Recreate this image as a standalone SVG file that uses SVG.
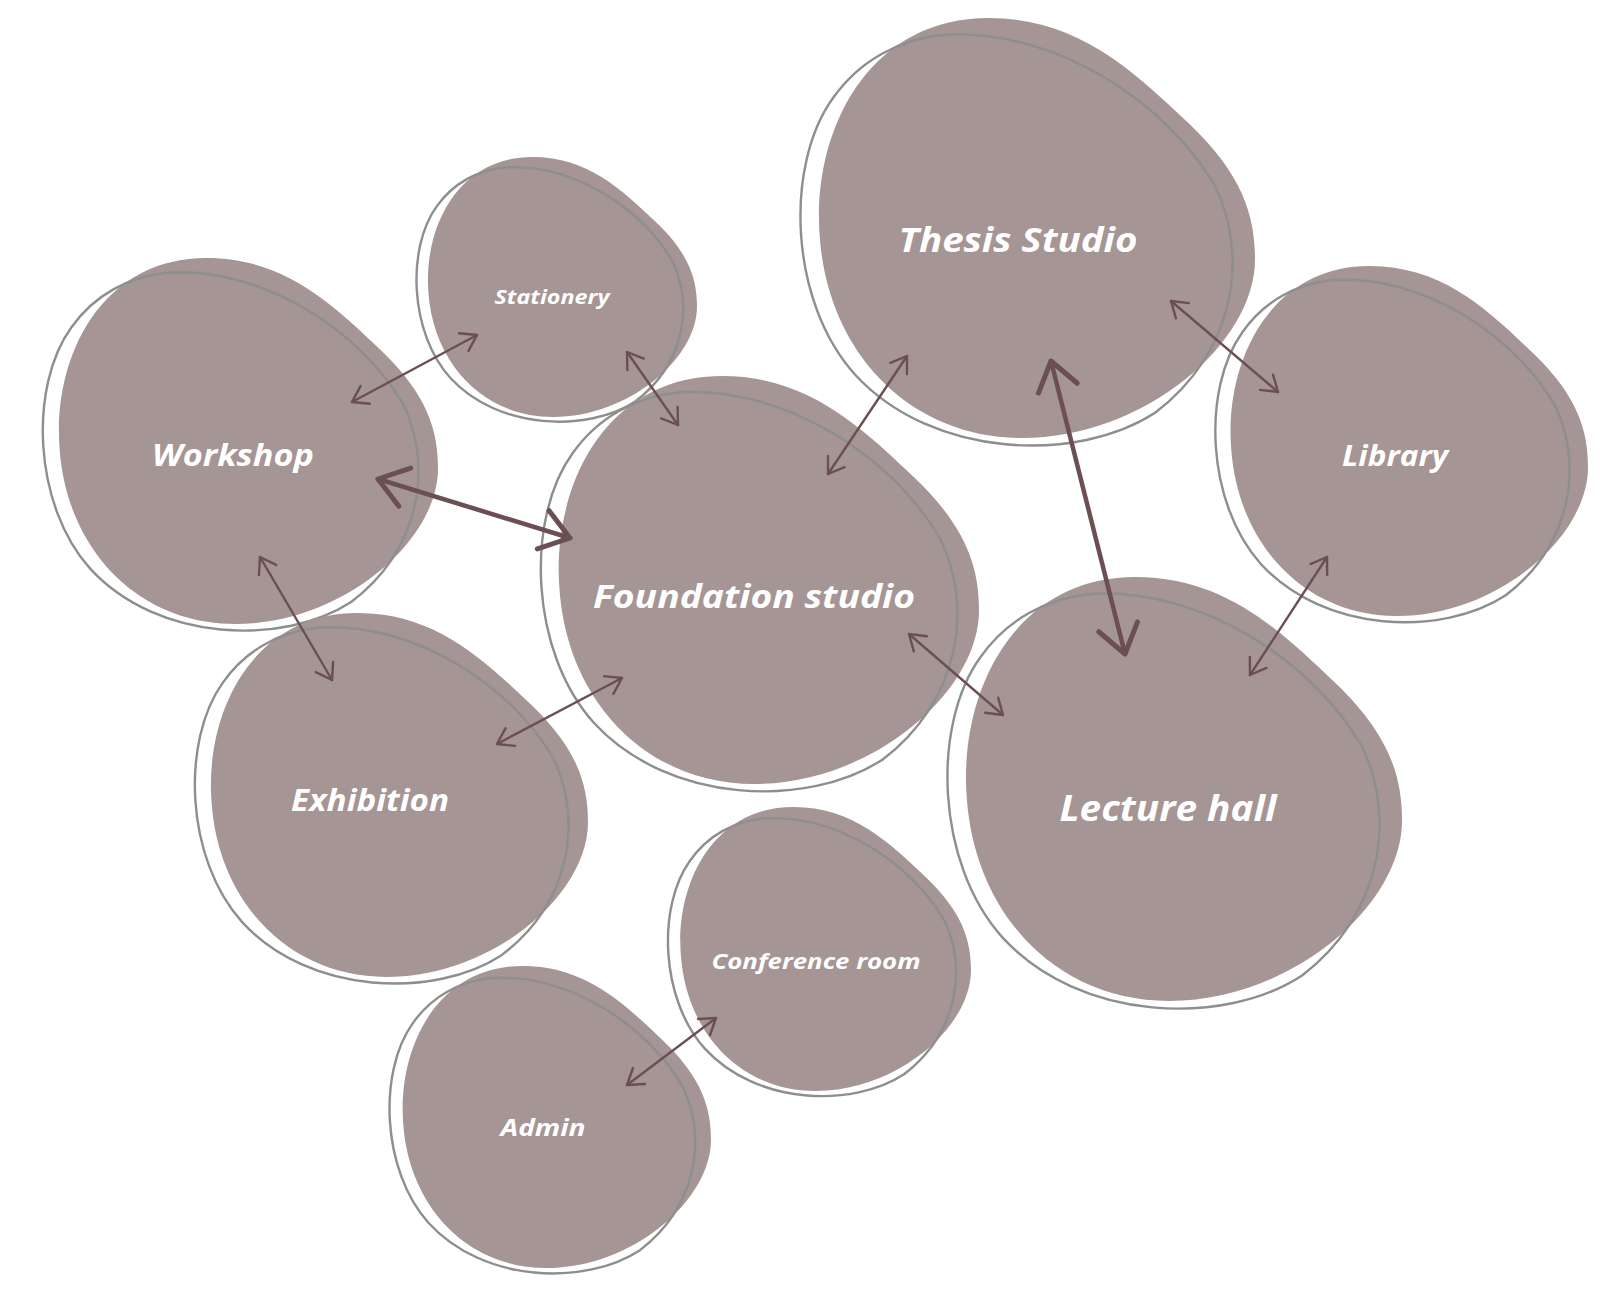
<svg xmlns="http://www.w3.org/2000/svg" width="1616" height="1306" viewBox="0 0 1616 1306">
<style>
.fill{fill:#a59595;}
.lbl{font-family:"Open Sans","Liberation Sans",sans-serif;font-weight:700;font-style:italic;fill:#ffffff;text-anchor:middle;}
.c{fill:none;stroke:#6b4f53;stroke-linecap:round;}
.thin{stroke-width:2.4;marker-start:url(#hs);marker-end:url(#hs);}
.thick{stroke-width:4.5;marker-start:url(#hl);marker-end:url(#hl);}
</style>
<defs>
<path id="blob" d="M -0.2,-1 C 0.2,-1 0.45,-0.75 0.7,-0.5 C 0.95,-0.25 1,-0.05 1,0.15 C 1,0.55 0.5,1 -0.05,1 C -0.55,1 -0.92,0.6 -0.96,0.05 C -1,-0.45 -0.75,-1 -0.2,-1 Z"/>
<path id="outl" fill="none" stroke="#8e8e8e" stroke-width="2.4" vector-effect="non-scaling-stroke" d="M -0.4,-0.92 C 0.1,-0.95 0.6,-0.6 0.82,-0.2 C 0.98,0.15 0.9,0.6 0.55,0.88 C 0.2,1.12 -0.45,1.1 -0.8,0.7 C -1.1,0.35 -1.12,-0.3 -0.9,-0.62 C -0.78,-0.8 -0.6,-0.9 -0.4,-0.92 Z"/>
<marker id="hs" viewBox="-20 -14 24 28" markerWidth="24" markerHeight="28" refX="0" refY="0" orient="auto-start-reverse" markerUnits="userSpaceOnUse">
<path d="M -15,-10 L 0,0 L -15,10" fill="none" stroke="#6b4f53" stroke-width="2.4" stroke-linecap="round" stroke-linejoin="round"/>
</marker>
<marker id="hl" viewBox="-36 -26 40 52" markerWidth="40" markerHeight="52" refX="0" refY="0" orient="auto-start-reverse" markerUnits="userSpaceOnUse">
<path d="M -28,-20 L 0,0 L -28,20" fill="none" stroke="#6b4f53" stroke-width="5" stroke-linecap="round" stroke-linejoin="round"/>
</marker>
</defs>
<rect width="1616" height="1306" fill="#ffffff"/>

<g id="node-workshop">
<use href="#blob" class="fill" transform="translate(245,441) scale(193,183)"/>
<use href="#outl" transform="translate(245,441) scale(193,183)"/>
<text class="lbl" x="233" y="466" font-size="30" textLength="162" lengthAdjust="spacingAndGlyphs">Workshop</text>
</g>
<g id="node-stationery">
<use href="#blob" class="fill" transform="translate(560,287) scale(137,130)"/>
<use href="#outl" transform="translate(560,287) scale(137,130)"/>
<text class="lbl" x="552" y="304" font-size="20" textLength="115" lengthAdjust="spacingAndGlyphs">Stationery</text>
</g>
<g id="node-thesis">
<use href="#blob" class="fill" transform="translate(1033,228) scale(222,210)"/>
<use href="#outl" transform="translate(1033,228) scale(222,210)"/>
<text class="lbl" x="1018" y="252" font-size="34" textLength="239" lengthAdjust="spacingAndGlyphs">Thesis Studio</text>
</g>
<g id="node-library">
<use href="#blob" class="fill" transform="translate(1406,441) scale(182,175)"/>
<use href="#outl" transform="translate(1406,441) scale(182,175)"/>
<text class="lbl" x="1395" y="466" font-size="28" textLength="106" lengthAdjust="spacingAndGlyphs">Library</text>
</g>
<g id="node-foundation">
<use href="#blob" class="fill" transform="translate(765,580) scale(214,204)"/>
<use href="#outl" transform="translate(765,580) scale(214,204)"/>
<text class="lbl" x="754" y="608" font-size="32" textLength="322" lengthAdjust="spacingAndGlyphs">Foundation studio</text>
</g>
<g id="node-exhibition">
<use href="#blob" class="fill" transform="translate(396,795) scale(192,182)"/>
<use href="#outl" transform="translate(396,795) scale(192,182)"/>
<text class="lbl" x="370" y="811" font-size="30" textLength="158" lengthAdjust="spacingAndGlyphs">Exhibition</text>
</g>
<g id="node-lecture">
<use href="#blob" class="fill" transform="translate(1180,789) scale(222,212)"/>
<use href="#outl" transform="translate(1180,789) scale(222,212)"/>
<text class="lbl" x="1168" y="821" font-size="36" textLength="217" lengthAdjust="spacingAndGlyphs">Lecture hall</text>
</g>
<g id="node-conference">
<use href="#blob" class="fill" transform="translate(823,949) scale(148,142)"/>
<use href="#outl" transform="translate(823,949) scale(148,142)"/>
<text class="lbl" x="816" y="969" font-size="22" textLength="209" lengthAdjust="spacingAndGlyphs">Conference room</text>
</g>
<g id="node-admin">
<use href="#blob" class="fill" transform="translate(554,1117) scale(157,151)"/>
<use href="#outl" transform="translate(554,1117) scale(157,151)"/>
<text class="lbl" x="543" y="1136" font-size="24" textLength="85" lengthAdjust="spacingAndGlyphs">Admin</text>
</g>

<g id="connectors">
<line class="c thin" x1="352" y1="402" x2="477" y2="335"/>
<line class="c thin" x1="627" y1="352" x2="678" y2="425"/>
<line class="c thick" x1="378" y1="479" x2="570" y2="538"/>
<line class="c thin" x1="260" y1="557" x2="332" y2="680"/>
<line class="c thin" x1="497" y1="744" x2="622" y2="678"/>
<line class="c thin" x1="828" y1="474" x2="907" y2="356"/>
<line class="c thick" x1="1051" y1="361" x2="1125" y2="654"/>
<line class="c thin" x1="1171" y1="301" x2="1278" y2="392"/>
<line class="c thin" x1="909" y1="634" x2="1003" y2="715"/>
<line class="c thin" x1="1250" y1="675" x2="1327" y2="557"/>
<line class="c thin" x1="627" y1="1085" x2="716" y2="1018"/>
</g>
</svg>
